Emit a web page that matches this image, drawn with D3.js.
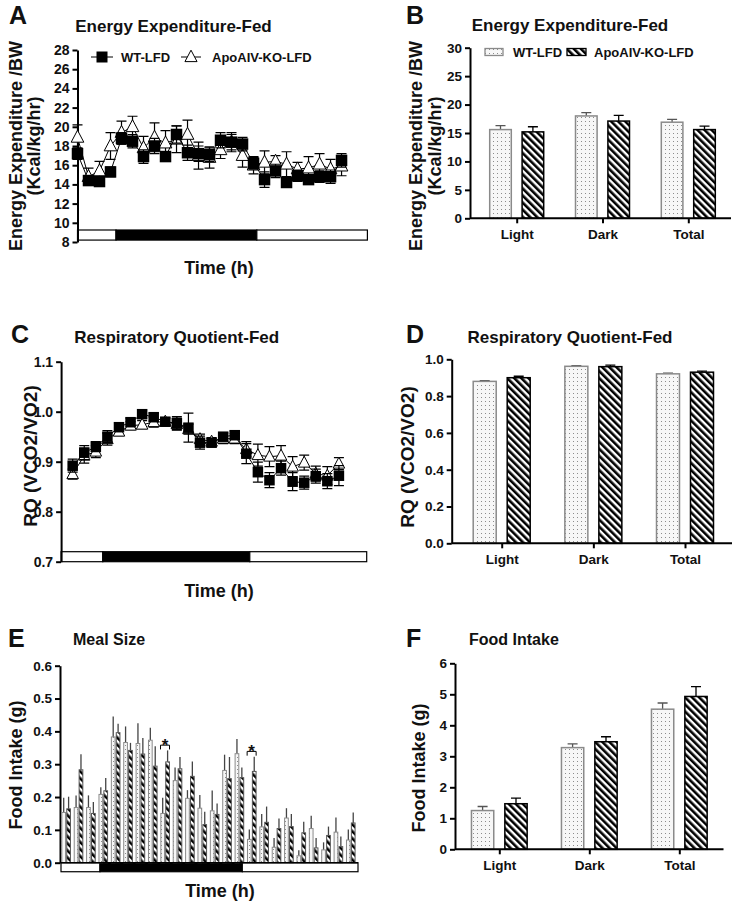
<!DOCTYPE html>
<html><head><meta charset="utf-8">
<script src="https://cdn.jsdelivr.net/npm/d3@7"></script>
<style>body{margin:0;background:#fff}svg{display:block}</style>
</head><body><svg id="c" width="733" height="903"></svg>
<script>
// ---------------- DATA ----------------
const seriesNames = ["WT-LFD", "ApoAIV-KO-LFD"];
const groups = ["Light", "Dark", "Total"];

// Panel A: energy expenditure time course (hourly)
const timeA = [0,1,2,3,4,5,6,7,8,9,10,11,12,13,14,15,16,17,18,19,20,21,22,23,24];
const eeWT    = [17.2,14.4,14.3,15.3,18.8,18.5,16.9,18.0,16.9,19.2,17.3,17.2,17.1,18.6,18.4,18.2,16.2,14.5,15.4,14.2,14.9,14.5,14.8,14.8,16.5];
const eeWTerr = [0.6,0.5,0.4,0.5,0.6,0.7,0.7,0.8,0.5,0.9,0.8,0.8,0.7,0.8,0.8,0.7,0.6,0.8,0.7,0.4,0.6,0.5,0.6,0.7,0.7];
const eeKO    = [18.9,14.8,15.4,18.0,19.4,20.0,17.8,18.9,18.3,18.7,19.2,17.0,16.8,17.6,18.4,17.0,16.0,16.3,16.4,16.1,15.6,15.7,16.1,15.6,15.9];
const eeKOerr = [1.3,0.9,1.0,1.4,1.2,1.1,1.2,1.5,1.3,1.4,1.5,1.4,1.1,0.9,1.0,1.2,0.9,1.2,0.6,1.3,0.7,1.2,1.1,1.0,1.0];
const phasesA = [{from:0,to:3.5,dark:false},{from:3.5,to:16.3,dark:true},{from:16.3,to:26.35,dark:false}];
const ticksA = [8,10,12,14,16,18,20,22,24,26,28];

// Panel B: energy expenditure by phase
const eeBarWT = [15.6, 18.0, 16.9];
const eeBarWTerr = [0.7, 0.6, 0.5];
const eeBarKO = [15.2, 17.1, 15.6];
const eeBarKOerr = [0.9, 1.0, 0.6];
const ticksB = [0,5,10,15,20,25,30];

// Panel C: RQ time course
const timeC = [0,1,2,3,4,5,6,7,8,9,10,11,12,13,14,15,16,17,18,19,20,21,22,23];
const rqWT    = [0.892,0.918,0.930,0.950,0.969,0.979,0.995,0.989,0.980,0.977,0.968,0.938,0.938,0.950,0.953,0.916,0.879,0.863,0.887,0.860,0.858,0.871,0.861,0.872];
const rqWTerr = [0.013,0.014,0.010,0.012,0.008,0.008,0.008,0.008,0.006,0.013,0.029,0.013,0.008,0.008,0.008,0.020,0.020,0.015,0.014,0.018,0.013,0.014,0.015,0.020];
const rqKO    = [0.875,0.912,0.920,0.945,0.960,0.972,0.974,0.979,0.980,0.975,0.965,0.945,0.940,0.946,0.946,0.925,0.913,0.910,0.912,0.890,0.898,0.876,0.872,0.896];
const rqKOerr = [0.010,0.015,0.012,0.012,0.008,0.008,0.008,0.010,0.008,0.012,0.010,0.010,0.008,0.010,0.010,0.015,0.022,0.020,0.020,0.020,0.015,0.015,0.018,0.012];
const phasesC = [{from:-1,to:2.6,dark:false},{from:2.6,to:15.3,dark:true},{from:15.3,to:25.4,dark:false}];
const ticksC = [0.7,0.8,0.9,1.0,1.1];

// Panel D: RQ by phase
const rqBarWT = [0.880, 0.962, 0.921];
const rqBarWTerr = [0.004, 0.004, 0.004];
const rqBarKO = [0.900, 0.960, 0.930];
const rqBarKOerr = [0.008, 0.008, 0.006];
const ticksD = [0,0.2,0.4,0.6,0.8,1.0];

// Panel E: meal size (hourly)
const timeE = [0,1,2,3,4,5,6,7,8,9,10,11,12,13,14,15,16,17,18,19,20,21,22,23];
const mealWT    = [0.153,0.168,0.168,0.208,0.383,0.366,0.363,0.373,0.150,0.250,0.196,0.166,0.158,0.281,0.332,0.071,0.109,0.047,0.136,0.021,0.104,0.039,0.093,0.069];
const mealWTerr = [0.045,0.037,0.037,0.022,0.062,0.049,0.062,0.038,0.048,0.040,0.025,0.040,0.062,0.048,0.045,0.030,0.039,0.028,0.030,0.017,0.039,0.023,0.045,0.032];
const mealKO    = [0.164,0.283,0.150,0.219,0.396,0.342,0.331,0.294,0.307,0.286,0.263,0.116,0.147,0.256,0.259,0.278,0.123,0.104,0.110,0.091,0.045,0.083,0.049,0.121];
const mealKOerr = [0.037,0.047,0.035,0.039,0.027,0.023,0.049,0.061,0.035,0.036,0.045,0.039,0.033,0.066,0.031,0.045,0.048,0.031,0.038,0.034,0.030,0.027,0.031,0.032];
const sigE = [8, 15];
const phasesE = [{from:0,to:3.15,dark:false},{from:3.15,to:14.65,dark:true},{from:14.65,to:24,dark:false}];
const ticksE = [0,0.1,0.2,0.3,0.4,0.5,0.6];

// Panel F: food intake by phase
const fiWT = [1.25, 3.28, 4.52];
const fiWTerr = [0.13, 0.12, 0.20];
const fiKO = [1.47, 3.47, 4.93];
const fiKOerr = [0.18, 0.16, 0.32];
const ticksF = [0,1,2,3,4,5,6];

// ---------------- DRAWING ----------------
const FONT = "'Liberation Sans', Arial, Helvetica, sans-serif";
const svg = d3.select("#c").attr("font-family", FONT).attr("font-weight", "bold");
svg.append("rect").attr("width", 733).attr("height", 903).attr("fill", "#fff");
const defs = svg.append("defs");
const pd = defs.append("pattern").attr("id", "dots").attr("patternUnits", "userSpaceOnUse").attr("width", 4).attr("height", 4);
pd.append("rect").attr("width", 4).attr("height", 4).attr("fill", "#f7f7f7");
pd.append("rect").attr("x", 1).attr("y", 1).attr("width", 1).attr("height", 1).attr("fill", "#8c8c8c");
const ph = defs.append("pattern").attr("id", "hatch").attr("patternUnits", "userSpaceOnUse")
  .attr("width", 5).attr("height", 5).attr("patternTransform", "rotate(-45)");
ph.append("rect").attr("width", 5).attr("height", 5).attr("fill", "#fff");
ph.append("rect").attr("width", 2.6).attr("height", 5).attr("fill", "#000");

function styleAxis(g, fs) {
  g.attr("font-family", FONT).attr("font-size", fs).attr("font-weight", "bold");
  g.selectAll("path,line").attr("stroke", "#000").attr("stroke-width", 2);
  g.selectAll("text").attr("fill", "#111");
}
function text(x, y, s, size, opts = {}) {
  const t = svg.append("text").attr("x", x).attr("y", y).attr("font-size", size)
    .attr("text-anchor", opts.anchor || "start").attr("fill", "#111").text(s);
  if (opts.rotate) t.attr("transform", `rotate(-90,${x},${y})`);
  return t;
}
function triPath(s) { return `M0,${-s*0.62}L${s*0.55},${s*0.42}L${-s*0.55},${s*0.42}Z`; }

function phaseBar(g, x, y, phases, v0, v1) {
  g.selectAll(null).data(phases).join("rect")
    .attr("x", d => x(d.from)).attr("width", d => x(d.to) - x(d.from))
    .attr("y", y(v1)).attr("height", y(v0) - y(v1))
    .attr("fill", d => d.dark ? "#000" : "#fff").attr("stroke", "#000").attr("stroke-width", 1.2);
}

function linePanel(p) {
  const g = svg.append("g");
  const x = d3.scaleLinear().domain(p.xDomain).range(p.xRange);
  const y = d3.scaleLinear().domain(p.yDomain).range(p.yRange);
  phaseBar(g, x, y, p.phases, p.barV[0], p.barV[1]);
  const ax = g.append("g").attr("transform", `translate(${x(p.xDomain[0])},0)`)
    .call(d3.axisLeft(y).tickValues(p.ticks).tickFormat(p.fmt).tickSize(5).tickSizeOuter(0));
  styleAxis(ax, p.tickFs);
  const sets = [
    {v: p.ko, e: p.koErr, tri: true},
    {v: p.wt, e: p.wtErr, tri: false}
  ];
  sets.forEach(s => {
    const pts = p.times.map((t, i) => ({t, v: s.v[i], e: s.e[i]}));
    g.append("path").datum(pts).attr("fill", "none").attr("stroke", "#000").attr("stroke-width", 1)
      .attr("d", d3.line().x(d => x(d.t)).y(d => y(d.v)));
    const eb = g.append("g").attr("stroke", "#000").attr("stroke-width", 1.2);
    eb.selectAll(null).data(pts).join("path")
      .attr("d", d => {
        const cx = x(d.t), t = y(d.v + d.e), b = y(d.v - d.e), c = p.cap / 2;
        return `M${cx},${t}V${b}M${cx - c},${t}H${cx + c}M${cx - c},${b}H${cx + c}`;
      });
    if (s.tri) {
      g.selectAll(null).data(pts).join("path").attr("d", triPath(p.mk))
        .attr("transform", d => `translate(${x(d.t)},${y(d.v)})`)
        .attr("fill", "#fff").attr("stroke", "#000").attr("stroke-width", 1);
    } else {
      g.selectAll(null).data(pts).join("rect")
        .attr("x", d => x(d.t) - p.mk / 2).attr("y", d => y(d.v) - p.mk / 2)
        .attr("width", p.mk).attr("height", p.mk).attr("fill", "#000");
    }
  });
  return {g, x, y};
}

function barPanel(p) {
  const g = svg.append("g");
  const x = d3.scalePoint().domain(groups).range(p.centers);
  const y = d3.scaleLinear().domain(p.yDomain).range(p.yRange);
  const ax = g.append("g").attr("transform", `translate(${p.axisX},0)`)
    .call(d3.axisLeft(y).tickValues(p.ticks).tickFormat(p.fmt).tickSize(5).tickSizeOuter(0));
  styleAxis(ax, p.tickFs);
  const series = [
    {v: p.wt, e: p.wtErr, fill: "url(#dots)", stroke: "#8a8a8a", ec: "#555", off: -p.off},
    {v: p.ko, e: p.koErr, fill: "url(#hatch)", stroke: "#000", ec: "#000", off: p.off}
  ];
  series.forEach(s => {
    const d = groups.map((k, i) => ({k, v: s.v[i], e: s.e[i]}));
    g.selectAll(null).data(d).join("path").attr("stroke", s.ec).attr("stroke-width", 1.3).attr("fill", "none")
      .attr("d", q => {
        const cx = x(q.k) + s.off, t = y(q.v + q.e);
        return `M${cx},${y(q.v)}V${t}M${cx - 5},${t}H${cx + 5}`;
      });
    g.selectAll(null).data(d).join("rect")
      .attr("x", q => x(q.k) + s.off - p.bw / 2).attr("width", p.bw)
      .attr("y", q => y(q.v)).attr("height", q => y(p.yDomain[0]) - y(q.v))
      .attr("fill", s.fill).attr("stroke", s.stroke).attr("stroke-width", 1.5);
  });
  // x axis
  const bx = g.append("g").attr("transform", `translate(0,${y(p.yDomain[0])})`)
    .call(d3.axisBottom(x).tickSize(5).tickPadding(6));
  styleAxis(bx, p.catFs);
  bx.select(".domain").remove();
  g.append("line").attr("x1", p.axisX).attr("x2", p.axisEnd).attr("y1", y(p.yDomain[0])).attr("y2", y(p.yDomain[0]))
    .attr("stroke", "#000").attr("stroke-width", 2);
  return {g, x, y};
}

// ----- Panel A -----
text(9, 24, "A", 25);
text(173.5, 31.5, "Energy Expenditure-Fed", 17, {anchor: "middle"});
const A = linePanel({
  times: timeA, wt: eeWT, wtErr: eeWTerr, ko: eeKO, koErr: eeKOerr,
  xDomain: [0, 26.35], xRange: [77.5, 367.4], yDomain: [8, 28], yRange: [242, 50],
  ticks: ticksA, fmt: d3.format("d"), tickFs: 14, phases: phasesA, barV: [8.2, 9.25],
  cap: 10, mk: 11.5
});
// legend A
{
  const ly = 57;
  svg.append("line").attr("x1", 91).attr("x2", 113).attr("y1", ly).attr("y2", ly).attr("stroke", "#000");
  svg.append("rect").attr("x", 96.5).attr("y", ly - 5.5).attr("width", 11).attr("height", 11).attr("fill", "#000");
  text(121, ly + 5, seriesNames[0], 13);
  svg.append("line").attr("x1", 181).attr("x2", 201).attr("y1", ly).attr("y2", ly).attr("stroke", "#000");
  svg.append("path").attr("d", triPath(11)).attr("transform", `translate(191,${ly})`)
    .attr("fill", "#fff").attr("stroke", "#000");
  text(212, ly + 5, seriesNames[1], 13);
}
text(16, 146, "Energy Expenditure /BW", 18, {anchor: "middle", rotate: true}).attr("dy", 6);
text(34, 146, "(Kcal/kg/hr)", 18, {anchor: "middle", rotate: true}).attr("dy", 6);
text(219, 274, "Time (h)", 18, {anchor: "middle"});

// ----- Panel B -----
text(406, 24, "B", 25);
text(570, 31, "Energy Expenditure-Fed", 17, {anchor: "middle"});
barPanel({
  centers: [516.7, 688.3], off: 16.2, bw: 21.6, axisX: 470, axisEnd: 731,
  yDomain: [0, 30], yRange: [218.3, 47.7], ticks: ticksB, fmt: d3.format("d"), tickFs: 13.5, catFs: 13.5,
  wt: eeBarWT, wtErr: eeBarWTerr, ko: eeBarKO, koErr: eeBarKOerr
});
{
  const ly = 52;
  svg.append("rect").attr("x", 485).attr("y", ly - 3.5).attr("width", 18).attr("height", 7)
    .attr("fill", "url(#dots)").attr("stroke", "#8a8a8a").attr("stroke-width", 1.3);
  text(513, ly + 5, seriesNames[0], 13);
  svg.append("rect").attr("x", 567).attr("y", ly - 3.5).attr("width", 19).attr("height", 7)
    .attr("fill", "url(#hatch)").attr("stroke", "#000").attr("stroke-width", 1.3);
  text(594, ly + 5, seriesNames[1], 13);
}
text(416, 146, "Energy Expenditure /BW", 18, {anchor: "middle", rotate: true}).attr("dy", 6);
text(435, 146, "(Kcal/kg/hr)", 18, {anchor: "middle", rotate: true}).attr("dy", 6);

// ----- Panel C -----
text(11, 343, "C", 25);
text(176.7, 342.5, "Respiratory Quotient-Fed", 17, {anchor: "middle"});
linePanel({
  times: timeC, wt: rqWT, wtErr: rqWTerr, ko: rqKO, koErr: rqKOerr,
  xDomain: [-1, 25.4], xRange: [61.1, 366.7], yDomain: [0.7, 1.1], yRange: [561.7, 361.7],
  ticks: ticksC, fmt: d3.format(".1f"), tickFs: 14, phases: phasesC, barV: [0.7, 0.72],
  cap: 10, mk: 10.5
});
text(31, 456, "RQ (VCO2/VO2)", 19, {anchor: "middle", rotate: true}).attr("dy", 6);
text(219, 597, "Time (h)", 18, {anchor: "middle"});

// ----- Panel D -----
text(406, 343, "D", 25);
text(570, 342.5, "Respiratory Quotient-Fed", 17, {anchor: "middle"});
barPanel({
  centers: [501.7, 685], off: 17, bw: 23, axisX: 451.7, axisEnd: 732,
  yDomain: [0, 1], yRange: [543.3, 359.3], ticks: ticksD, fmt: d3.format(".1f"), tickFs: 13.5, catFs: 13.5,
  wt: rqBarWT, wtErr: rqBarWTerr, ko: rqBarKO, koErr: rqBarKOerr
});
text(408, 457, "RQ (VCO2/VO2)", 19, {anchor: "middle", rotate: true}).attr("dy", 6);

// ----- Panel E -----
text(8, 647, "E", 25);
text(73, 645, "Meal Size", 16);
{
  const x = d3.scaleLinear().domain([0, 24]).range([61, 358]);
  const y = d3.scaleLinear().domain([0, 0.6]).range([862.7, 665.7]);
  const g = svg.append("g");
  phaseBar(g, x, y, phasesE, -0.0275, 0);
  const ax = g.append("g").attr("transform", `translate(60,0)`)
    .call(d3.axisLeft(y).tickValues(ticksE).tickFormat(d3.format(".1f")).tickSize(5).tickSizeOuter(0));
  styleAxis(ax, 13.5);
  const bw = 3.7;
  const sets = [
    {v: mealWT, e: mealWTerr, off: 2.7, fill: "url(#dots)", stroke: "#8a8a8a", ec: "#444"},
    {v: mealKO, e: mealKOerr, off: 7.6, fill: "url(#hatch)", stroke: "#555", ec: "#444"}
  ];
  sets.forEach(s => {
    const d = timeE.map((t, i) => ({t, v: s.v[i], e: s.e[i]}));
    g.selectAll(null).data(d).join("line")
      .attr("x1", q => x(q.t) + s.off).attr("x2", q => x(q.t) + s.off)
      .attr("y1", q => y(q.v)).attr("y2", q => y(q.v + q.e))
      .attr("stroke", s.ec).attr("stroke-width", 1.3);
    g.selectAll(null).data(d).join("rect")
      .attr("x", q => x(q.t) + s.off - bw / 2).attr("width", bw)
      .attr("y", q => y(q.v)).attr("height", q => y(0) - y(q.v))
      .attr("fill", s.fill).attr("stroke", s.stroke).attr("stroke-width", 1);
  });
  g.append("line").attr("x1", 60).attr("x2", 358).attr("y1", y(0)).attr("y2", y(0))
    .attr("stroke", "#000").attr("stroke-width", 1.5);
  // significance brackets
  sigE.forEach(i => {
    const top = Math.max(mealWT[i] + mealWTerr[i], mealKO[i] + mealKOerr[i]) + 0.016;
    const x1 = x(i) + 0.5, x2 = x(i) + 9.5;
    g.append("path").attr("fill", "none").attr("stroke", "#000").attr("stroke-width", 1)
      .attr("d", `M${x1},${y(top - 0.013)}V${y(top)}H${x2}V${y(top - 0.013)}`);
    g.append("text").attr("x", (x1 + x2) / 2).attr("y", y(top) + 6).attr("text-anchor", "middle")
      .attr("font-size", 17).attr("font-weight", "bold").attr("fill", "#111").text("*");
  });
}
text(16, 765, "Food Intake (g)", 18, {anchor: "middle", rotate: true}).attr("dy", 6);
text(220, 897, "Time (h)", 18, {anchor: "middle"});

// ----- Panel F -----
text(406, 647, "F", 25);
text(469, 645, "Food Intake", 16);
barPanel({
  centers: [499.3, 679.3], off: 16.7, bw: 22.3, axisX: 455, axisEnd: 723.5,
  yDomain: [0, 6], yRange: [849.3, 663.3], ticks: ticksF, fmt: d3.format("d"), tickFs: 13.5, catFs: 13.5,
  wt: fiWT, wtErr: fiWTerr, ko: fiKO, koErr: fiKOerr
});
text(419, 768, "Food Intake (g)", 18, {anchor: "middle", rotate: true}).attr("dy", 6);
</script></body></html>
